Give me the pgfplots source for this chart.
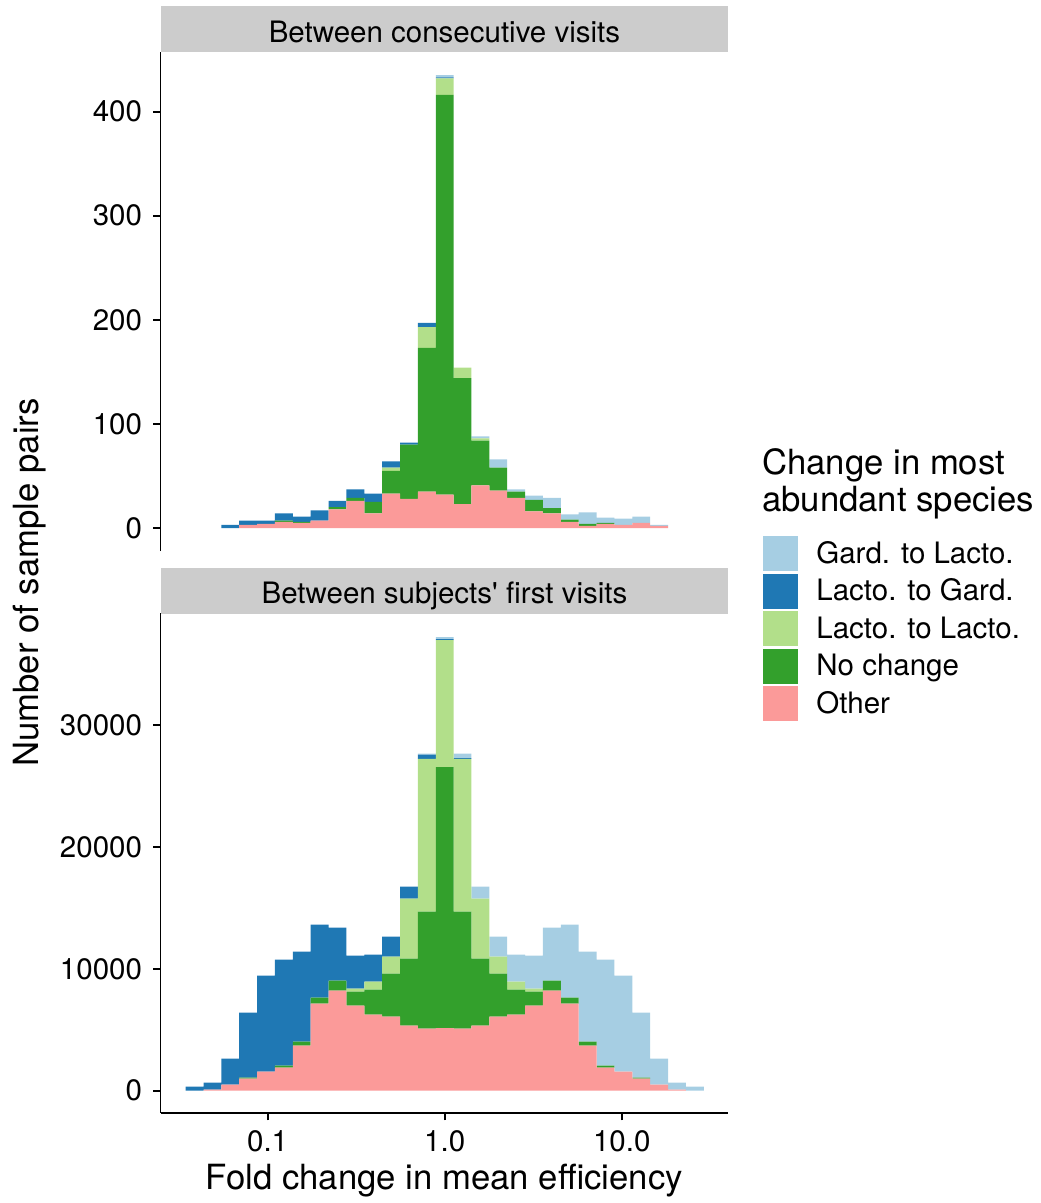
\documentclass[border=0pt]{standalone}
\usepackage{pgfplots}
\pgfplotsset{compat=1.18}
\usepackage{pgfplotstable}
\usepackage{fontspec}
\setmainfont{TeX Gyre Heros}[Ligatures=TeXOff]
\definecolor{cGL}{HTML}{A6CEE3}
\definecolor{cLG}{HTML}{1F78B4}
\definecolor{cLL}{HTML}{B2DF8A}
\definecolor{cNC}{HTML}{33A02C}
\definecolor{cOT}{HTML}{FB9A99}
\definecolor{stripgray}{HTML}{CCCCCC}

\pgfplotstableread{
x other nc ll lg gl
-1.2108 0 0 0 3 0
-1.1099 3 0 0 4 0
-1.0090 4 0 0 3 0
-0.9081 6 1 0 7 0
-0.8072 5 1 0 5 0
-0.7063 7 0 0 10 0
-0.6054 18 2 0 6 0
-0.5045 26 3 0 8 0
-0.4036 14 11 0 8 0
-0.3027 33 22 3 6 0
-0.2018 28 52 0 2 0
-0.1009 35 138 20 4 0
0.0000 32 384 16 1 2
0.1009 23 121 10 0 0
0.2018 41 43 2 0 2
0.3027 36 22 0 0 8
0.4036 29 6 0 0 2
0.5045 16 11 0 0 4
0.6054 14 5 0 0 10
0.7063 6 2 0 0 5
0.8072 2 2 0 0 11
0.9081 4 1 0 0 5
1.0090 3 0 0 0 6
1.1099 5 0 0 0 6
1.2108 2 0 0 0 1
}\topdata

\pgfplotstableread{
x other nc ll lg gl
-1.4126 0 0 0 330 0
-1.3117 80 0 0 575 0
-1.2108 490 0 0 2135 0
-1.1099 985 80 0 5335 0
-1.0090 1560 0 0 7875 0
-0.9081 1890 160 0 8700 0
-0.8072 3690 330 0 7385 0
-0.7063 7140 490 0 5990 0
-0.6054 8205 820 0 4350 0
-0.5045 6975 1150 245 2710 0
-0.4036 6235 2050 655 2215 0
-0.3027 6070 3530 1395 1640 0
-0.2018 5330 5500 4925 985 0
-0.1009 5085 9600 12530 355 80
0.0000 5140 21415 10420 80 165
0.1009 5085 9600 12530 80 355
0.2018 5330 5500 4925 0 985
0.3027 6070 3530 1395 0 1640
0.4036 6235 2050 655 0 2215
0.5045 6975 1150 245 0 2710
0.6054 8205 820 0 0 4350
0.7063 7140 490 0 0 5990
0.8072 3690 330 0 0 7385
0.9081 1890 160 0 0 8700
1.0090 1560 0 0 0 7875
1.1099 985 80 0 0 5335
1.2108 490 0 0 0 2135
1.3117 80 0 0 0 575
1.4126 0 0 0 0 330
}\botdata

\newcommand{\smallfont}{\fontsize{29.5}{35}\selectfont}
\newcommand{\bigfont}{\fontsize{34.7}{40}\selectfont}

\pgfplotsset{
  sqleg/.style={legend image code/.code={\fill[##1] (0pt,-17.5pt) rectangle (35pt,17.5pt);}},
  panel/.style={
    scale only axis, width=567.5pt,
    ybar stacked, bar width=0.1009,
    xmin=-1.605, xmax=1.600,
    axis line style={-, line width=1.9pt, black},
    tick style={line width=1.9pt, black},
    major tick length=7.3pt,
    tick align=outside,
    ytick pos=left,
    scaled y ticks=false,
    tick label style={font=\smallfont},
    yticklabel style={anchor=east, inner sep=0pt, xshift=-11pt},
    xticklabel style={anchor=north, inner sep=0pt, text height=21pt, text depth=0pt, yshift=-10pt},
    /pgf/number format/assume math mode=true,
    /pgf/number format/1000 sep={},
    every axis plot/.append style={draw=none, sqleg},
  },
}
\tikzset{
  strip/.style={anchor=north west, fill=stripgray, inner sep=0pt,
      minimum width=567.5pt, minimum height=46pt, text height=26pt, text depth=0pt, font=\smallfont},
}

\begin{document}
\begin{tikzpicture}
\begin{axis}[panel, at={(160.5pt,-551pt)}, anchor=south west, height=499pt,
  ymin=-22.1, ymax=457.3, ytick={0,100,200,300,400},
  axis x line=none, axis y line*=left]
\addplot[fill=cOT] table[x=x,y=other]{\topdata};
\addplot[fill=cNC] table[x=x,y=nc]{\topdata};
\addplot[fill=cLL] table[x=x,y=ll]{\topdata};
\addplot[fill=cLG] table[x=x,y=lg]{\topdata};
\addplot[fill=cGL] table[x=x,y=gl]{\topdata};
\end{axis}
\begin{axis}[panel, at={(160.5pt,-1113pt)}, anchor=south west, height=500pt,
  ymin=-1830, ymax=39190, ytick={0,10000,20000,30000},
  axis x line*=bottom, axis y line*=left,
  xtick={-1,0,1}, xticklabels={0.1,1.0,10.0},
  reverse legend, legend cell align=left,
  legend style={draw=none, fill=none, at={(1.0611,1.154)}, anchor=north west,
    inner sep=0pt, row sep=2.5pt, column sep=18.5pt,
    nodes={inner sep=0pt, font=\smallfont, text height=19pt, text depth=0pt}}]
\addplot[fill=cOT] table[x=x,y=other]{\botdata};
\addlegendentry{Other}
\addplot[fill=cNC] table[x=x,y=nc]{\botdata};
\addlegendentry{No change}
\addplot[fill=cLL] table[x=x,y=ll]{\botdata};
\addlegendentry{Lacto. to Lacto.}
\addplot[fill=cLG] table[x=x,y=lg]{\botdata};
\addlegendentry{Lacto. to Gard.}
\addplot[fill=cGL] table[x=x,y=gl]{\botdata};
\addlegendentry{Gard. to Lacto.}
\end{axis}
\node[strip] at (160.5pt,-6pt) {Between consecutive visits};
\node[strip] at (160.5pt,-567.5pt) {Between subjects' first visits};
\node[anchor=base west, inner sep=0pt, font=\bigfont] at (762pt,-474pt) {Change in most};
\node[anchor=base west, inner sep=0pt, font=\bigfont] at (762pt,-511pt) {abundant species};
\node[anchor=base, inner sep=0pt, font=\bigfont, rotate=90] at (38.5pt,-582.5pt) {Number of sample pairs};
\node[anchor=base, inner sep=0pt, font=\bigfont] at (444.25pt,-1189pt) {Fold change in mean efficiency};
\pgfresetboundingbox
\path (0pt,0pt) rectangle (1041pt,-1203pt);
\end{tikzpicture}
\end{document}
